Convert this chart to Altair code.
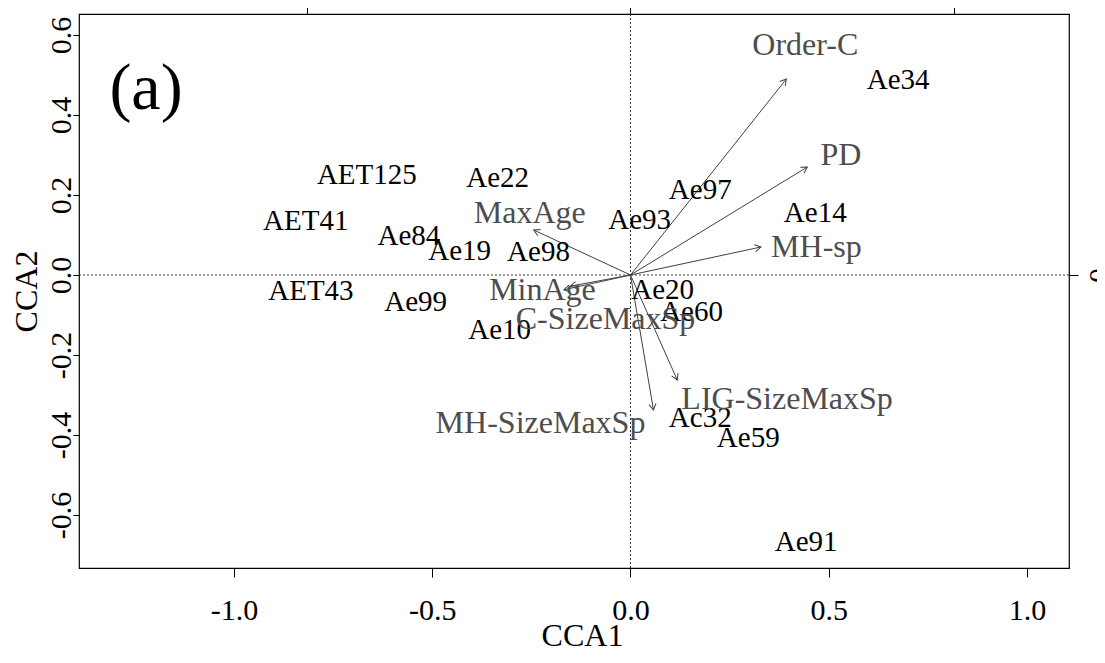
import math
import altair as alt
import pandas as pd

# ---------------- data ----------------
species_names = ["AET125", "Ae22", "AET41", "Ae84", "Ae19", "Ae98", "Ae93", "Ae97",
                 "Ae34", "Ae14", "AET43", "Ae99", "Ae10", "Ae20", "Ae60", "Ac32",
                 "Ae59", "Ae91"]
species_x = [-0.665, -0.335, -0.819, -0.559, -0.431, -0.232, 0.023, 0.176,
             0.675, 0.466, -0.806, -0.542, -0.330, 0.081, 0.154, 0.176,
             0.297, 0.443]
species_y = [0.250, 0.2425, 0.135, 0.0975, 0.060, 0.0575, 0.1375, 0.2125,
             0.4875, 0.155, -0.040, -0.0675, -0.1375, -0.0375, -0.0925, -0.3575,
             -0.4075, -0.6675]

env_names = ["Order-C", "PD", "MH-sp", "MaxAge", "MinAge", "C-SizeMaxSp",
             "LIG-SizeMaxSp", "MH-SizeMaxSp"]
env_label_x = [0.441, 0.531, 0.469, -0.254, -0.222, -0.063, 0.395, -0.227]
env_label_y = [0.575, 0.300, 0.070, 0.155, -0.0375, -0.110, -0.310, -0.370]
arrow_x = [0.393, 0.446, 0.329, -0.244, -0.168, -0.152, 0.118, 0.058]
arrow_y = [0.490, 0.270, 0.070, 0.1125, -0.037, -0.028, -0.2625, -0.3375]

panel_label = ["(a)"]
panel_x = [-1.222]
panel_y = [0.464]

x_domain = [-1.391, 1.106]
y_domain = [-0.7325, 0.6525]
biplot_mult = 1.63          # scale of the top / right (biplot) axes
x_ticks = [-1.0, -0.5, 0.0, 0.5, 1.0]
y_ticks = [-0.6, -0.4, -0.2, 0.0, 0.2, 0.4, 0.6]
top_ticks = [-0.5, 0.0, 0.5]
right_ticks = [0.0]

# ---------------- layout ----------------
W, H = 990, 554
FONT = "Liberation Serif"
ARROW_COL = "#404040"
ENV_COL = "#4d4d4d"

px_x = W / (x_domain[1] - x_domain[0])
px_y = H / (y_domain[1] - y_domain[0])

sp_df = pd.DataFrame({"name": species_names, "x": species_x, "y": species_y})
env_df = pd.DataFrame({"name": env_names, "lx": env_label_x, "ly": env_label_y,
                       "ax": arrow_x, "ay": arrow_y})
env_df["x0"] = 0.0
env_df["y0"] = 0.0
env_df["head_angle"] = [
    (90 - math.degrees(math.atan2(b * px_y, a * px_x))) % 360
    for a, b in zip(arrow_x, arrow_y)
]
panel_df = pd.DataFrame({"t": panel_label, "x": panel_x, "y": panel_y})
zero_df = pd.DataFrame({"z": [0.0]})


def xs():
    return alt.Scale(domain=x_domain, nice=False, zero=False)


def ys():
    return alt.Scale(domain=y_domain, nice=False, zero=False)


sxs = alt.Scale(domain=[x_domain[0] / biplot_mult, x_domain[1] / biplot_mult], nice=False, zero=False)
sys_ = alt.Scale(domain=[y_domain[0] / biplot_mult, y_domain[1] / biplot_mult], nice=False, zero=False)

num_expr = "datum.value < 0 ? '-' + format(-datum.value, '.1f') : format(datum.value, '.1f')"

x_axis = alt.Axis(orient="bottom", values=x_ticks, labelExpr=num_expr, title="CCA1",
                  tickSize=9, labelPadding=18, labelFont=FONT, labelFontSize=30,
                  titleFont=FONT, titleFontSize=32,
                  titleX=503, titleY=67, titleBaseline="middle", titleAlign="center")
y_axis = alt.Axis(orient="left", values=y_ticks, labelExpr=num_expr, title="CCA2",
                  tickSize=6, labelPadding=3, labelAngle=270, labelAlign="center",
                  labelBaseline="alphabetic", labelFont=FONT, labelFontSize=30,
                  titleFont=FONT, titleFontSize=32,
                  titleAngle=270, titleX=-53, titleY=277, titleBaseline="middle",
                  titleAlign="center")

# dotted zero lines carry the top / right (biplot-scale) axes
vline = alt.Chart(zero_df).mark_rule(color="#333333", strokeWidth=1, strokeDash=[2, 2]).encode(
    x=alt.X("z:Q", scale=sxs,
            axis=alt.Axis(orient="top", values=top_ticks, labels=False, title=None, tickSize=10)),
)
hline = alt.Chart(zero_df).mark_rule(color="#333333", strokeWidth=1, strokeDash=[2, 2]).encode(
    y=alt.Y("z:Q", scale=sys_,
            axis=alt.Axis(orient="right", values=right_ticks, format=".0f", title=None,
                          tickSize=9, labelPadding=6, labelAngle=270, labelAlign="center",
                          labelBaseline="top", labelFont=FONT, labelFontSize=30)),
)

arrows = alt.Chart(env_df).mark_rule(color=ARROW_COL, strokeWidth=1).encode(
    x=alt.X("x0:Q", scale=xs(), axis=x_axis),
    y=alt.Y("y0:Q", scale=ys(), axis=y_axis),
    x2="ax:Q",
    y2="ay:Q",
)

heads = alt.Chart(env_df).mark_point(
    shape="M-0.5,0.866L0,0L0.5,0.866", size=196, filled=False,
    stroke=ARROW_COL, strokeWidth=1, opacity=1,
).encode(
    x=alt.X("ax:Q", scale=xs(), axis=None),
    y=alt.Y("ay:Q", scale=ys(), axis=None),
    angle=alt.Angle("head_angle:Q", scale=None),
)

sp_text = alt.Chart(sp_df).mark_text(
    font=FONT, fontSize=29, color="black", align="center", baseline="middle"
).encode(
    x=alt.X("x:Q", scale=xs(), axis=None),
    y=alt.Y("y:Q", scale=ys(), axis=None),
    text="name:N",
)

env_text = alt.Chart(env_df).mark_text(
    font=FONT, fontSize=32, color=ENV_COL, align="center", baseline="middle"
).encode(
    x=alt.X("lx:Q", scale=xs(), axis=None),
    y=alt.Y("ly:Q", scale=ys(), axis=None),
    text="name:N",
)

panel = alt.Chart(panel_df).mark_text(
    font=FONT, fontSize=66, color="black", align="center", baseline="middle"
).encode(
    x=alt.X("x:Q", scale=xs(), axis=None),
    y=alt.Y("y:Q", scale=ys(), axis=None),
    text="t:N",
)

chart = alt.layer(vline, hline, arrows, heads, sp_text, env_text, panel).resolve_scale(
    x="independent", y="independent"
).properties(
    width=W, height=H,
    autosize=alt.AutoSizeParams(type="none"),
    padding={"left": 71, "top": 6, "right": 28, "bottom": 86},
).configure_view(
    stroke="black", strokeWidth=1.2
).configure_axis(
    grid=False, domain=False, tickColor="black", tickWidth=1,
    labelColor="black", titleColor="black", labelFont=FONT, titleFont=FONT,
    titleFontWeight="normal",
)

chart.save("out.html", embed_options={"renderer": "svg", "actions": False})
